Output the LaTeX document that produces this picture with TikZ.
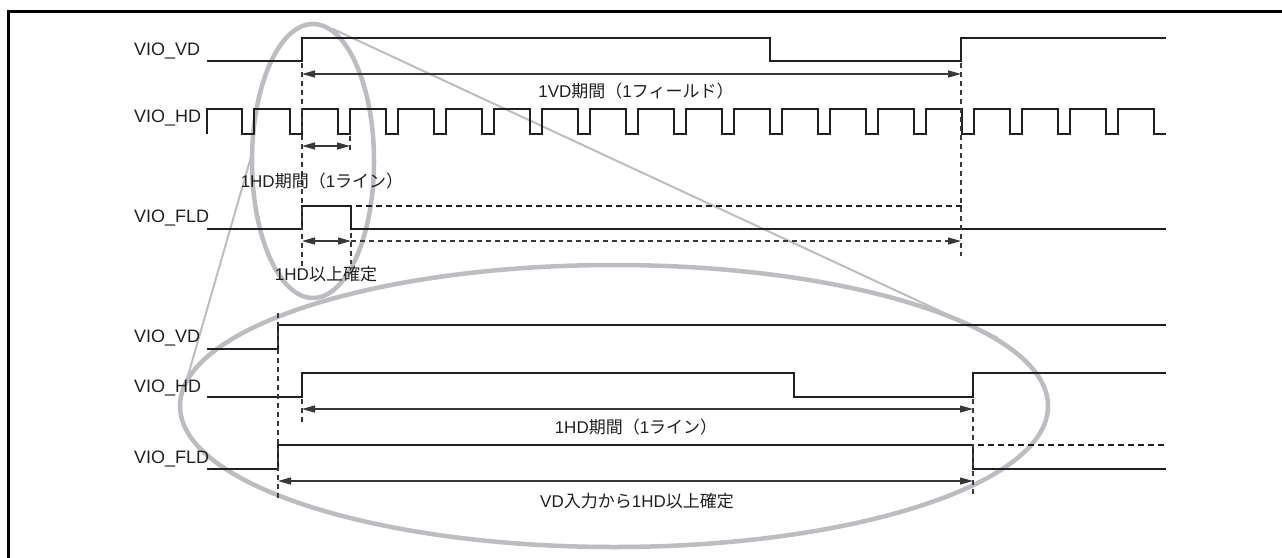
\documentclass[tikz,border=0pt]{standalone}
\usepackage{fontspec}
\setmainfont{Liberation Sans}
\newfontfamily\jp{Noto Sans CJK JP}
\usetikzlibrary{arrows.meta}
\definecolor{ink}{RGB}{35,31,32}
\definecolor{lensgray}{RGB}{188,189,193}
\definecolor{dimgray}{RGB}{55,55,55}
\tikzset{
  sig/.style={line width=2.3pt, ink, line join=miter},
  sigdash/.style={line width=2.3pt, ink, dash pattern=on 6pt off 4pt},
  guide/.style={line width=1.3pt, dimgray, dash pattern=on 5pt off 4pt},
  dimline/.style={line width=1.2pt, dimgray, {Triangle[length=13pt,width=7pt]}-{Triangle[length=13pt,width=7pt]}},
  dimdash/.style={line width=1.2pt, dimgray, dash pattern=on 5pt off 4pt, -{Triangle[length=13pt,width=7pt]}},
  lens/.style={line width=4.5pt, lensgray},
  ray/.style={line width=2pt, lensgray},
  siglabel/.style={anchor=base west, inner sep=0pt, font=\fontsize{18}{20}\selectfont, ink},
  note/.style={anchor=base, inner sep=0pt, font=\fontsize{17}{19}\selectfont, ink},
}
\begin{document}
\begin{tikzpicture}[x=1pt,y=-1pt]
\useasboundingbox (0,0) rectangle (1282,557);
\fill[white] (0,0) rectangle (1282,557);
% frame
\draw[line width=3pt, black] (8,570) -- (8,11) -- (1295,11);

% magnifier
\draw[lens] (313,161) ellipse [x radius=61, y radius=137];
\draw[lens] (614,406) ellipse [x radius=434, y radius=141];
\coordinate (r1a) at (333,29);
\coordinate (r1b) at (998,338);
\coordinate (r2a) at (253,150);
\coordinate (r2b) at (187,379);
\draw[ray] (r1a) -- (r1b);
\draw[ray] (r2a) -- (r2b);

% ---------- top section ----------
\node[siglabel] (tvd) at (134,55) {VIO\_VD};
\node[siglabel] (thd) at (134,122) {VIO\_HD};
\node[siglabel] (tfld) at (134,222) {VIO\_FLD};

\draw[sig] (207,61) -- (302,61) -- (302,38) -- (770,38) -- (770,61) -- (961,61) -- (961,38) -- (1166,38);
\draw[sig] (207,134) -- (207,109)
  \foreach \k in {0,...,18} { -- ({242+48*\k},109) -- ({242+48*\k},134) -- ({254+48*\k},134) -- ({254+48*\k},109) }
  -- (1154,109) -- (1154,134) -- (1166,134);
\draw[sig] (207,229) -- (302,229) -- (302,206) -- (351,206) -- (351,229) -- (1166,229);
\draw[sigdash] (356,206) -- (962,206);

% guides
\draw[guide] (302,63) -- (302,267);
\draw[guide] (961,63) -- (961,256);
\draw[guide] (350,136) -- (350,153);
\draw[guide] (351,233) -- (351,264);

% dimension arrows
\coordinate (a1l) at (302,74);  \coordinate (a1r) at (961,74);
\coordinate (a2l) at (302,146); \coordinate (a2r) at (350,146);
\coordinate (a3l) at (302,241); \coordinate (a3m) at (351,241); \coordinate (a3r) at (961,241);
\draw[dimline] (a1l) -- (a1r);
\draw[dimline] (a2l) -- (a2r);
\draw[dimline] (a3l) -- (a3m);
\draw[dimdash] (a3m) -- (a3r);

\node[note] (t1vd) at (636,97) {1VD{\jp 期間（}1{\jp フィールド）}};
\node[note] (t1hd) at (322,187) {1HD{\jp 期間（}1{\jp ライン）}};
\node[note] (t1hdk) at (326,280) {1HD{\jp 以上確定}};

% ---------- bottom section ----------
\node[siglabel] (bvd) at (134,342) {VIO\_VD};
\node[siglabel] (bhd) at (134,392) {VIO\_HD};
\node[siglabel] (bfld) at (134,463) {VIO\_FLD};

\draw[sig] (207,349) -- (278,349) -- (278,325) -- (1166,325);
\draw[sig] (207,397) -- (302,397) -- (302,373) -- (794,373) -- (794,397) -- (973,397) -- (973,373) -- (1166,373);
\draw[sig] (207,469) -- (278,469) -- (278,445) -- (973,445) -- (973,469) -- (1166,469);
\draw[sigdash] (978,445) -- (1166,445);

\draw[guide] (278,313) -- (278,498);
\draw[guide] (302,399) -- (302,424);
\draw[guide] (973,399) -- (973,495);

\coordinate (b1l) at (302,409); \coordinate (b1r) at (973,409);
\coordinate (b2l) at (278,481); \coordinate (b2r) at (973,481);
\draw[dimline] (b1l) -- (b1r);
\draw[dimline] (b2l) -- (b2r);

\node[note] (b1hd) at (636,433) {1HD{\jp 期間（}1{\jp ライン）}};
\node[note] (bvdin) at (637,507) {VD{\jp 入力から}1HD{\jp 以上確定}};
\end{tikzpicture}
\end{document}
